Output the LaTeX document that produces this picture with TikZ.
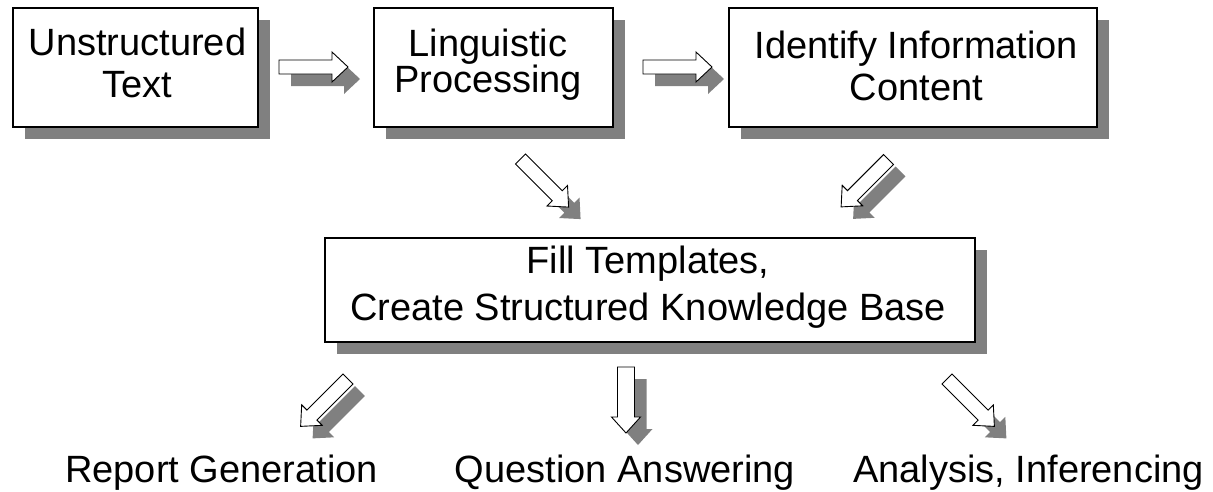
\documentclass[tikz,border=0pt]{standalone}
\usepackage{fontspec}
\setmainfont{Liberation Sans}
\usetikzlibrary{shadows}
\definecolor{shadowgray}{HTML}{808080}
\tikzset{
  box/.style={draw=black, line width=1.1pt, fill=white, inner sep=0pt,
    drop shadow={shadow xshift=12pt, shadow yshift=-12pt, fill=shadowgray, opacity=1}},
  lbl/.style={align=center, inner sep=0pt, font=\fontsize{38}{42}\selectfont},
  arrowbody/.style={draw=black, line width=0.9pt, fill=white, line join=miter},
  arrowshadow/.style={fill=shadowgray}
}
% name, x, y, angle, length, shaft half width, head half width
\newcommand{\blockarrow}[7]{%
  \coordinate (#1) at (#2,#3);
  \begin{scope}[shift={(#2+12,#3+12)},rotate=#4]
    \fill[arrowshadow] (0,-#6) -- (#5-16,-#6) -- (#5-16,-#7) -- (#5,0) -- (#5-16,#7) -- (#5-16,#6) -- (0,#6) -- cycle;
  \end{scope}
  \begin{scope}[shift={(#2,#3)},rotate=#4]
    \draw[arrowbody] (0,-#6) -- (#5-16,-#6) -- (#5-16,-#7) -- (#5,0) -- (#5-16,#7) -- (#5-16,#6) -- (0,#6) -- cycle;
  \end{scope}}
\begin{document}
\begin{tikzpicture}[x=1pt,y=-1pt]
\useasboundingbox (0,0) rectangle (1213,491);

% boxes
\node[box, minimum width=245pt, minimum height=119pt] (b1) at (135.5,67.5) {};
\node[box, minimum width=239pt, minimum height=119pt] (b2) at (493.5,67.5) {};
\node[box, minimum width=368pt, minimum height=119pt] (b3) at (913,67.5) {};
\node[box, minimum width=650pt, minimum height=104pt] (b4) at (650,290) {};

% box texts
\node[lbl] (t1) at (137.5,62.5) {Unstructured\\Text};
\node[lbl, font=\fontsize{38}{35}\selectfont] (t2) at (488,64.5) {Linguistic\\Processing};
\node[lbl] (t3) at (916.5,66) {Identify Information\\Content};
\node[lbl, font=\fontsize{38}{47}\selectfont] (t4) at (648,287.5) {Fill Templates,\\Create Structured Knowledge Base};

% block arrows
\blockarrow{a1}{279}{67}{0}{69}{7}{15}
\blockarrow{a2}{643}{67}{0}{69}{7}{15}
\blockarrow{a3}{520.5}{159}{-45}{68}{7}{14.5}
\blockarrow{a4}{888.5}{159.5}{-135}{67}{7}{14.5}
\blockarrow{a5}{348}{379}{-135}{67}{7}{14.5}
\blockarrow{a6}{626}{367}{-90}{66}{8.5}{14.5}
\blockarrow{a7}{947}{379}{-45}{67}{7}{14.5}

% bottom labels
\node[lbl, anchor=base] (o1) at (221.5,482) {Report Generation};
\node[lbl, anchor=base] (o2) at (625,482) {Question Answering};
\node[lbl, anchor=base] (o3) at (1028.5,482) {Analysis, Inferencing};
\end{tikzpicture}
\end{document}
